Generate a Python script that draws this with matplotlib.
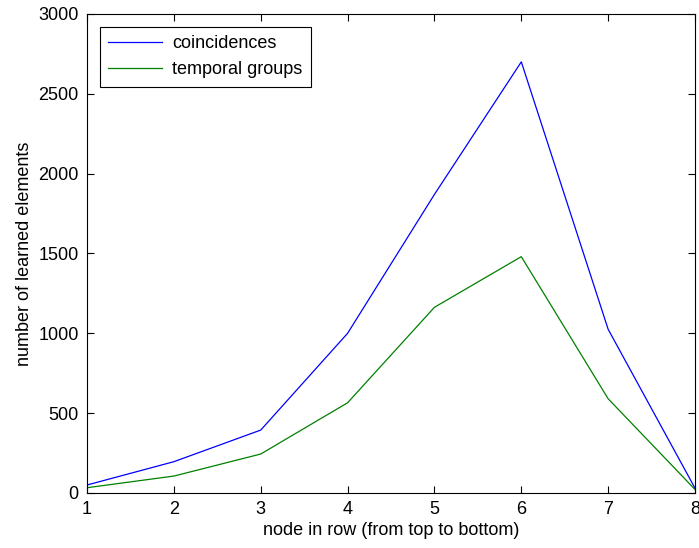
import matplotlib
matplotlib.use("Agg")
import matplotlib.pyplot as plt

# node index in row and learned element counts
nodes = [1, 2, 3, 4, 5, 6, 7, 8]
coincidences = [50, 196, 394, 1000, 1870, 2700, 1025, 30]
temporal_groups = [33, 106, 244, 565, 1163, 1480, 590, 22]

plt.rcParams['font.family'] = ['Liberation Sans', 'DejaVu Sans']
plt.rcParams['font.size'] = 13

fig = plt.figure(figsize=(6.99, 5.48), dpi=100)
ax = fig.add_axes([0.1245, 0.1004, 0.8698, 0.8741])

ax.plot(nodes, coincidences, color='#0000ff', lw=0.9, label='coincidences')
ax.plot(nodes, temporal_groups, color='#008000', lw=0.9, label='temporal groups')

ax.set_xlim(1, 8)
ax.set_ylim(0, 3000)
ax.set_xticks(nodes)
ax.set_yticks(range(0, 3001, 500))
ax.tick_params(direction='in', length=5, width=0.8, top=True, right=True, pad=6)
for s in ax.spines.values():
    s.set_linewidth(0.8)

ax.set_xlabel('node in row (from top to bottom)', labelpad=3)
ax.set_ylabel('number of learned elements', labelpad=4)

leg = ax.legend(loc='upper left', bbox_to_anchor=(0.0214, 0.973), borderaxespad=0,
                fancybox=False, framealpha=1, edgecolor='black',
                handlelength=3.0, handletextpad=0.55,
                borderpad=0.45, labelspacing=0.52, fontsize=13)
leg.get_frame().set_linewidth(0.8)

fig.savefig('out.png', dpi=100)
